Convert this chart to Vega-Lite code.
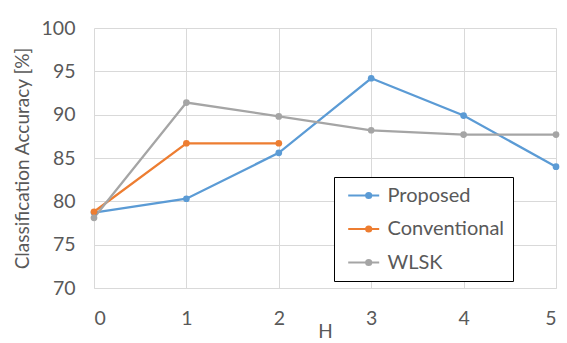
{
  "$schema": "https://vega.github.io/schema/vega-lite/v6.json",
  "width": 462,
  "height": 260,
  "autosize": "none",
  "padding": {"left": 94, "top": 28, "right": 11, "bottom": 55},
  "background": "white",
  "config": {
    "font": "Lato",
    "view": {"stroke": null}
  },
  "data": {
    "values": [
      {"H": 0, "method": "Proposed", "acc": 78.7},
      {"H": 1, "method": "Proposed", "acc": 80.3},
      {"H": 2, "method": "Proposed", "acc": 85.6},
      {"H": 3, "method": "Proposed", "acc": 94.2},
      {"H": 4, "method": "Proposed", "acc": 89.9},
      {"H": 5, "method": "Proposed", "acc": 84.0},
      {"H": 0, "method": "Conventional", "acc": 78.8},
      {"H": 1, "method": "Conventional", "acc": 86.7},
      {"H": 2, "method": "Conventional", "acc": 86.7},
      {"H": 0, "method": "WLSK", "acc": 78.1},
      {"H": 1, "method": "WLSK", "acc": 91.4},
      {"H": 2, "method": "WLSK", "acc": 89.8},
      {"H": 3, "method": "WLSK", "acc": 88.2},
      {"H": 4, "method": "WLSK", "acc": 87.7},
      {"H": 5, "method": "WLSK", "acc": 87.7}
    ]
  },
  "mark": {
    "type": "line",
    "strokeWidth": 2.25,
    "point": {"filled": true, "size": 45, "opacity": 1}
  },
  "encoding": {
    "x": {
      "field": "H",
      "type": "quantitative",
      "scale": {"domain": [0, 5], "nice": false, "zero": false},
      "axis": {
        "values": [0, 1, 2, 3, 4, 5],
        "title": "H",
        "grid": true,
        "gridColor": "#d9d9d9",
        "gridWidth": 1,
        "domainColor": "#d9d9d9",
        "domainWidth": 1,
        "ticks": false,
        "tickSize": 0,
        "labelFontSize": 19.5,
        "labelColor": "#595959",
        "labelPadding": 21,
        "titleFontSize": 19,
        "titleFontWeight": "normal",
        "titleColor": "#595959",
        "titlePadding": -5
      }
    },
    "y": {
      "field": "acc",
      "type": "quantitative",
      "scale": {"domain": [70, 100], "nice": false, "zero": false},
      "axis": {
        "values": [70, 75, 80, 85, 90, 95, 100],
        "title": "Classification Accuracy [%]",
        "grid": true,
        "gridColor": "#d9d9d9",
        "gridWidth": 1,
        "domain": false,
        "ticks": false,
        "tickSize": 0,
        "labelFontSize": 19.5,
        "labelColor": "#595959",
        "labelPadding": 19,
        "titleFontSize": 19,
        "titleFontWeight": "normal",
        "titleColor": "#595959",
        "titlePadding": 9
      }
    },
    "color": {
      "field": "method",
      "type": "nominal",
      "scale": {
        "domain": ["Proposed", "Conventional", "WLSK"],
        "range": ["#5B9BD5", "#ED7D31", "#A5A5A5"]
      },
      "legend": {
        "title": null,
        "orient": "none",
        "legendX": 240,
        "legendY": 149,
        "padding": 8.5,
        "strokeColor": "black",
        "fillColor": "white",
        "cornerRadius": 0,
        "rowPadding": 13.5,
        "labelFontSize": 20,
        "labelColor": "#595959",
        "labelOffset": 25,
        "symbolSize": 100,
        "symbolStrokeWidth": 2,
        "symbolType": "M-0.86,0L5.34,0M2.72,0A0.52,0.52 0 1,1 3.76,0A0.52,0.52 0 1,1 2.72,0",
        "encode": {
          "symbols": {
            "update": {
              "fill": {"scale": "color", "field": "value"},
              "stroke": {"scale": "color", "field": "value"},
              "opacity": {"value": 1}
            }
          }
        }
      }
    }
  }
}
